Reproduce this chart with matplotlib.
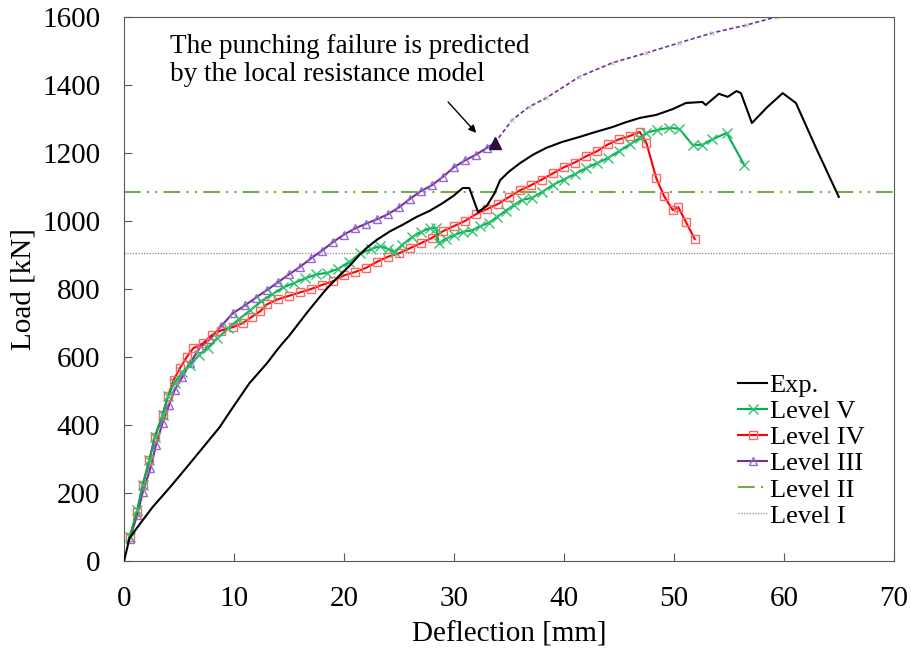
import numpy as np
import matplotlib.pyplot as plt

plt.rcParams['font.family'] = ['Liberation Serif', 'DejaVu Serif']

# Datos (deflexión en mm, carga en kN)
exp_x = [0, 0.5, 1.5, 2.6, 4.2, 5.7, 7.2, 8.7, 9.6, 11.4, 13.0, 13.9, 14.4, 15.0,
         16.6, 17.5, 18.4, 19.6, 20.5, 21.4, 22.1, 23.0, 24.2, 25.4, 26.6, 27.8,
         29.0, 30.0, 30.8, 31.4, 32.2, 33.0, 33.7, 34.2, 35.0, 36.0, 37.2, 38.4,
         39.8, 41.4, 42.9, 44.4, 45.6, 46.9, 48.4, 49.9, 51.1, 52.6, 52.9, 54.1,
         54.9, 55.7, 56.1, 57.1, 58.5, 59.9, 61.1, 63.0, 65.0]
exp_y = [0, 68, 112, 159, 218, 276, 335, 394, 438, 523, 582, 620, 640, 662,
         729, 765, 800, 840, 868, 900, 922, 945, 970, 990, 1012, 1030,
         1053, 1075, 1097, 1097, 1026, 1045, 1082, 1120, 1145, 1170, 1195, 1215,
         1232, 1247, 1262, 1276, 1290, 1303, 1312, 1329, 1347, 1350, 1341, 1374,
         1365, 1382, 1376, 1288, 1335, 1376, 1347, 1210, 1071]

lv5_x = [0.5, 1.2, 1.7, 2.3, 2.8, 3.5, 4.0, 4.6, 5.3, 6.0, 6.8, 7.6, 8.5, 9.5,
         10.5, 11.5, 12.5, 13.5, 14.5, 15.5, 16.5, 17.5, 18.5, 19.5, 20.5, 21.5,
         22.5, 23.3, 24.0, 24.6, 25.3, 26.2, 27.0, 27.8, 28.4, 28.6, 29.3, 30.0,
         30.8, 31.6, 32.4, 33.2, 33.9, 34.7, 35.5, 36.2, 37.1, 38.0, 39.0, 40.0,
         41.0, 42.0, 43.0, 44.0, 45.0, 46.0, 46.9, 47.5, 48.5, 49.6, 50.5, 51.7,
         52.6, 53.5, 54.8, 56.4]
lv5_y = [70, 150, 224, 297, 365, 429, 485, 525, 556, 578, 605, 628, 655, 685,
         713, 738, 765, 785, 805, 818, 832, 843, 848, 860, 880, 905,
         918, 926, 918, 908, 930, 953, 968, 979, 979, 935, 948, 958,
         968, 972, 985, 995, 1012, 1030, 1048, 1062, 1068, 1085, 1106, 1122,
         1138, 1155, 1170, 1185, 1205, 1225, 1244, 1259, 1268, 1274, 1271, 1224,
         1224, 1240, 1259, 1165]

lv4_x = [0.5, 1.2, 1.7, 2.3, 2.8, 3.5, 4.0, 4.5, 5.1, 5.7, 6.3, 7.2, 8.0, 8.8,
         9.9, 10.8, 11.6, 12.4, 13.0, 14.0, 15.0, 16.0, 17.0, 18.0, 19.0, 20.0,
         21.0, 22.0, 23.0, 24.0, 25.0, 26.0, 27.0, 28.0, 29.0, 30.0, 31.0, 32.0,
         33.0, 34.0, 35.0, 36.0, 37.0, 38.0, 39.0, 40.0, 41.0, 42.0, 43.0, 44.0,
         45.0, 46.0, 46.9, 47.5, 48.4, 49.1, 49.9, 50.4, 51.1, 51.9]
lv4_y = [70, 145, 224, 297, 365, 429, 485, 532, 568, 600, 626, 641, 665, 678,
         688, 700, 718, 735, 755, 770, 780, 790, 800, 812, 823, 840,
         850, 862, 880, 895, 905, 920, 935, 950, 970, 985, 1000, 1020,
         1035, 1050, 1070, 1090, 1105, 1122, 1140, 1158, 1172, 1190, 1205, 1225,
         1240, 1250, 1262, 1230, 1126, 1074, 1032, 1041, 997, 947]

lv3_x = [0.5, 1.2, 1.7, 2.4, 2.9, 3.5, 4.1, 4.6, 5.3, 6.0, 6.9, 7.8, 8.8, 9.9,
         11.0, 12.0, 13.0, 14.0, 15.0, 16.0, 17.0, 18.0, 19.0, 20.0, 21.0, 22.0,
         23.0, 24.0, 25.0, 26.0, 27.0, 28.0, 29.0, 30.0, 31.0, 32.0, 33.0, 33.7]
lv3_y = [65, 135, 203, 273, 341, 406, 459, 503, 541, 582, 628, 652, 690, 729,
         752, 775, 797, 820, 843, 865, 890, 913, 938, 960, 978, 992,
         1005, 1020, 1040, 1065, 1088, 1105, 1130, 1158, 1178, 1195, 1215, 1229]

# continuación del nivel III después del punzonamiento
lv3b_x = [33.7, 35.3, 36.8, 38.4, 41.4, 44.4, 47.5, 50.5, 53.5, 56.6, 59.3, 61.0]
lv3b_y = [1229, 1297, 1335, 1362, 1424, 1465, 1494, 1524, 1553, 1576, 1600, 1612]

level2 = 1085
level1 = 906

fig, ax = plt.subplots(figsize=(9.12, 6.51), dpi=100)
fig.subplots_adjust(left=0.136, right=0.980, bottom=0.138, top=0.974)

ax.axhline(level1, color='#999999', linestyle=(0, (1, 1)), linewidth=1.0, label='Level I', zorder=1)
ax.axhline(level2, color='#70AD47', linestyle=(0, (8, 3, 1, 3, 1, 3)), linewidth=1.5,
           label='Level II', zorder=1)

# tramo punteado (después de la falla por punzonamiento)
ax.plot(lv3b_x, lv3b_y, color='#7030A0', linestyle=(0, (2.5, 1.5)), linewidth=1.2, zorder=2)
ax.plot(lv3b_x, lv3b_y, color='none', marker='x', markersize=3, mec='#c0c0c0',
        mew=0.8, zorder=2)

ax.plot(lv3_x, lv3_y, color='#7030A0', linewidth=1.5, marker='^', markersize=6,
        markerfacecolor='none', markeredgecolor='#9966CC', mew=1.0, label='Level III', zorder=3)
ax.plot([lv3_x[-1]], [lv3_y[-1]], marker='^', markersize=8, color='#2b0f3a', zorder=6)

ax.plot(lv4_x, lv4_y, color='#FF0000', linewidth=1.5, marker='s', markersize=5.5,
        markerfacecolor='none', markeredgecolor='#FF6666', mew=1.0, label='Level IV', zorder=4)

ax.plot(lv5_x, lv5_y, color='#00B050', linewidth=1.5, marker='x', markersize=7,
        markeredgecolor='#33C070', mew=1.0, label='Level V', zorder=4)

ax.plot(exp_x, exp_y, color='black', linewidth=1.5, label='Exp.', zorder=5)

ax.annotate('', xy=(32.2, 1253), xytext=(29.3, 1356),
            arrowprops=dict(arrowstyle='-|>', color='black', lw=1.0, mutation_scale=11))
ax.text(4.2, 1550, 'The punching failure is predicted\nby the local resistance model',
        fontsize=19.5, ha='left', va='top', linespacing=1.18)

ax.set_xlim(0, 70)
ax.set_ylim(0, 1600)
ax.set_xticks(np.arange(0, 71, 10))
ax.set_yticks(np.arange(0, 1601, 200))
ax.tick_params(direction='in', labelsize=21, length=6, color='#595959')
ax.tick_params(axis='x', pad=18)
ax.tick_params(axis='y', pad=17)
for s in ax.spines.values():
    s.set_color('#595959')
ax.set_xlabel('Deflection [mm]', fontsize=21, labelpad=7)
ax.set_ylabel('Load [kN]', fontsize=21, labelpad=4)

handles, labels = ax.get_legend_handles_labels()
order = ['Exp.', 'Level V', 'Level IV', 'Level III', 'Level II', 'Level I']
hmap = dict(zip(labels, handles))
ax.legend([hmap[k] for k in order], order, loc='lower right', bbox_to_anchor=(1.008, -0.004),
          frameon=False, fontsize=19, handlelength=1.1, handletextpad=0.1,
          labelspacing=0.1, borderaxespad=0.95)

plt.savefig('out.png', dpi=100)
